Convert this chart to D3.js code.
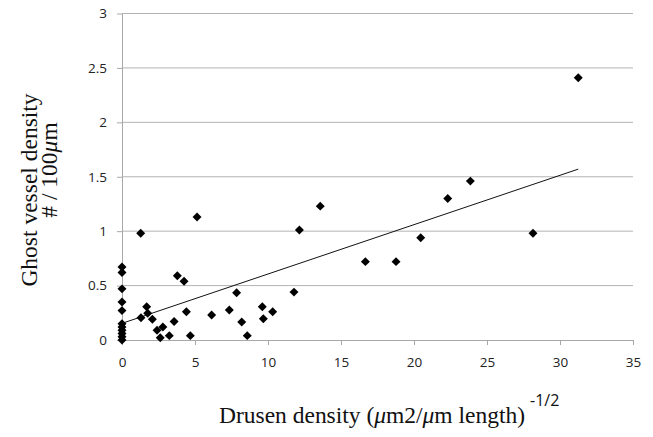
<!DOCTYPE html>
<html>
<head>
<meta charset="utf-8">
<script src="https://cdn.jsdelivr.net/npm/d3@7"></script>
<style>
    body { margin: 0; background: #fff; }
    .tick-label { font-family: "Open Sans", "Noto Sans", sans-serif; font-size: 13.5px; fill: #222; }
    .axis-title { font-family: "Liberation Serif", "DejaVu Serif", serif; font-size: 23.5px; fill: #111; }
</style>
</head>
<body>
<div id="chart"></div>
<script>
// drusen density (x) and ghost vessel density (y)
const drusenDensity = [
    0, 0, 0, 0, 0, 0, 0, 0, 0, 0, 0,
    1.28, 1.3, 1.69, 1.76, 2.08, 2.4, 2.62, 2.8, 3.24, 3.57, 3.79, 4.25, 4.41, 4.68,
    5.14, 6.14, 7.35, 7.85, 8.2, 8.58, 9.61, 9.68, 10.32, 11.78, 12.15, 13.58,
    16.67, 18.77, 20.46, 22.31, 23.86, 28.15, 31.25
];
const ghostDensity = [
    0.67, 0.62, 0.47, 0.35, 0.27, 0.15, 0.12, 0.09, 0.06, 0.03, 0.0,
    0.98, 0.205, 0.305, 0.245, 0.19, 0.09, 0.02, 0.12, 0.04, 0.17, 0.59, 0.54, 0.26, 0.04,
    1.13, 0.23, 0.275, 0.435, 0.165, 0.04, 0.305, 0.195, 0.26, 0.44, 1.01, 1.23,
    0.72, 0.72, 0.94, 1.30, 1.46, 0.98, 2.41
];
// linear trendline end points
const trendX = [0, 31.25];
const trendY = [0.153, 1.57];

const xTicks = [0, 5, 10, 15, 20, 25, 30, 35];
const yTicks = [0, 0.5, 1, 1.5, 2, 2.5, 3];

const width = 653, height = 437;
const margin = { top: 13.5, right: 20, bottom: 97, left: 122 };

const svg = d3.select("#chart")
    .append("svg")
    .attr("width", width)
    .attr("height", height);

const xScale = d3.scaleLinear()
    .domain([0, 35])
    .range([margin.left, width - margin.right]);

const yScale = d3.scaleLinear()
    .domain([0, 3])
    .range([height - margin.bottom, margin.top]);

// horizontal gridlines
svg.append("g")
    .selectAll("line")
    .data(yTicks.filter(d => d > 0))
    .join("line")
    .attr("x1", xScale(0))
    .attr("x2", xScale(35))
    .attr("y1", d => yScale(d))
    .attr("y2", d => yScale(d))
    .attr("stroke", "#b4b4b4")
    .attr("stroke-width", 1);

// y axis
const yAxis = svg.append("g")
    .attr("transform", `translate(${xScale(0)},0)`)
    .call(d3.axisLeft(yScale).tickValues(yTicks).tickSize(5).tickSizeOuter(0).tickPadding(10)
        .tickFormat(d3.format("~g")));
yAxis.select(".domain").attr("stroke", "#a8a8a8");
yAxis.selectAll(".tick line").attr("stroke", "#a8a8a8");
yAxis.selectAll(".tick text").attr("class", "tick-label").attr("font-family", null).attr("font-size", null);

// x axis
const xAxis = svg.append("g")
    .attr("transform", `translate(0,${yScale(0)})`)
    .call(d3.axisBottom(xScale).tickValues(xTicks).tickSize(5).tickSizeOuter(0).tickPadding(12));
xAxis.select(".domain").attr("stroke", "#a8a8a8");
xAxis.selectAll(".tick line").attr("stroke", "#a8a8a8");
xAxis.selectAll(".tick text").attr("class", "tick-label").attr("font-family", null).attr("font-size", null);

// trendline
const line = d3.line()
    .x(d => xScale(d[0]))
    .y(d => yScale(d[1]));

svg.append("path")
    .datum(d3.zip(trendX, trendY))
    .attr("fill", "none")
    .attr("stroke", "#111")
    .attr("stroke-width", 1)
    .attr("d", line);

// diamond markers
const diamond = d3.symbol().type(d3.symbolSquare).size(40);

svg.append("g")
    .selectAll("path")
    .data(d3.zip(drusenDensity, ghostDensity))
    .join("path")
    .attr("d", diamond)
    .attr("transform", d => `translate(${xScale(d[0])},${yScale(d[1])}) rotate(45)`)
    .attr("fill", "#000");

// x axis title
const xTitle = svg.append("text")
    .attr("class", "axis-title")
    .attr("x", 219)
    .attr("y", 423)
    .attr("textLength", 306)
    .attr("lengthAdjust", "spacing");
xTitle.append("tspan").text("Drusen density (");
xTitle.append("tspan").attr("font-style", "italic").text("μ");
xTitle.append("tspan").text("m2/");
xTitle.append("tspan").attr("font-style", "italic").text("μ");
xTitle.append("tspan").text("m length)");

svg.append("text")
    .attr("x", 530)
    .attr("y", 406)
    .attr("font-family", "Open Sans, sans-serif")
    .attr("font-size", 16)
    .attr("fill", "#111")
    .text("-1/2");

// y axis title, two lines
svg.append("text")
    .attr("class", "axis-title")
    .attr("transform", "translate(37,190) rotate(-90)")
    .attr("text-anchor", "middle")
    .text("Ghost vessel density");

const yTitle2 = svg.append("text")
    .attr("class", "axis-title")
    .attr("transform", "translate(57,170) rotate(-90)")
    .attr("text-anchor", "middle");
yTitle2.append("tspan").text("# / 100");
yTitle2.append("tspan").attr("font-style", "italic").text("μ");
yTitle2.append("tspan").text("m");
</script>
</body>
</html>
